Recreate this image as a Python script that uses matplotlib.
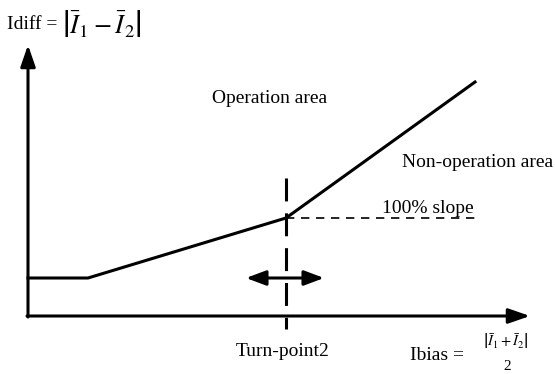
import matplotlib
matplotlib.use("Agg")
import matplotlib.pyplot as plt

plt.rcParams['font.family'] = ['Liberation Serif', 'DejaVu Serif']
plt.rcParams['mathtext.fontset'] = 'stix'

# characteristic curve (Ibias, Idiff) in picture units
curve_x = [28, 88, 286, 475]
curve_y = [278, 278, 218, 82]
turn_x = 286
slope_end = 478
labels = ["Operation area", "Non-operation area", "100% slope", "Turn-point2"]

fig = plt.figure(figsize=(5.55, 3.74), dpi=100)
ax = fig.add_axes([0, 0, 1, 1])
ax.set_xlim(0, 555)
ax.set_ylim(374, 0)
ax.axis('off')

# axes arrows
ax.annotate('', xy=(530, 316), xytext=(27, 316),
            arrowprops=dict(arrowstyle='-|>,head_length=1.3,head_width=0.45', lw=2.2, color='black',
                            shrinkA=0, shrinkB=0))
ax.annotate('', xy=(28, 45), xytext=(28, 317),
            arrowprops=dict(arrowstyle='-|>,head_length=1.3,head_width=0.45', lw=2.2, color='black',
                            shrinkA=0, shrinkB=0))

# characteristic
ax.plot(curve_x, curve_y, color='black', lw=2.2, solid_joinstyle='miter')
ax.plot([turn_x, slope_end], [curve_y[2], curve_y[2]], color='black', lw=1.2, ls=(0, (5, 4)))
ax.plot([turn_x, turn_x], [178, 329], color='black', lw=2.2, ls=(0, (7.5, 3.9)))

# double arrow
ax.annotate('', xy=(246, 278), xytext=(324, 278),
            arrowprops=dict(arrowstyle='<|-|>,head_length=1.2,head_width=0.45', lw=2.2, color='black',
                            shrinkA=0, shrinkB=0))

# texts
ax.text(7, 24, 'Idiff =', fontsize=14, va='center', ha='left')
ax.text(62, 23, r'$\left|\bar{I}_1-\bar{I}_2\right|$', fontsize=19, va='center', ha='left')
ax.text(212, 98, labels[0], fontsize=14, va='center', ha='left')
ax.text(402, 162, labels[1], fontsize=14, va='center', ha='left')
ax.text(382, 208, labels[2], fontsize=14, va='center', ha='left')
ax.text(283, 352, labels[3], fontsize=14, va='center', ha='center')
ax.text(410, 355, 'Ibias =', fontsize=14, va='center', ha='left')
ax.text(506, 341, r'$\left|\bar{I}_1+\bar{I}_2\right|$', fontsize=10.5, va='center', ha='center')
ax.text(507, 367, '2', fontsize=11, va='center', ha='center')

fig.savefig('out.png', dpi=100)
